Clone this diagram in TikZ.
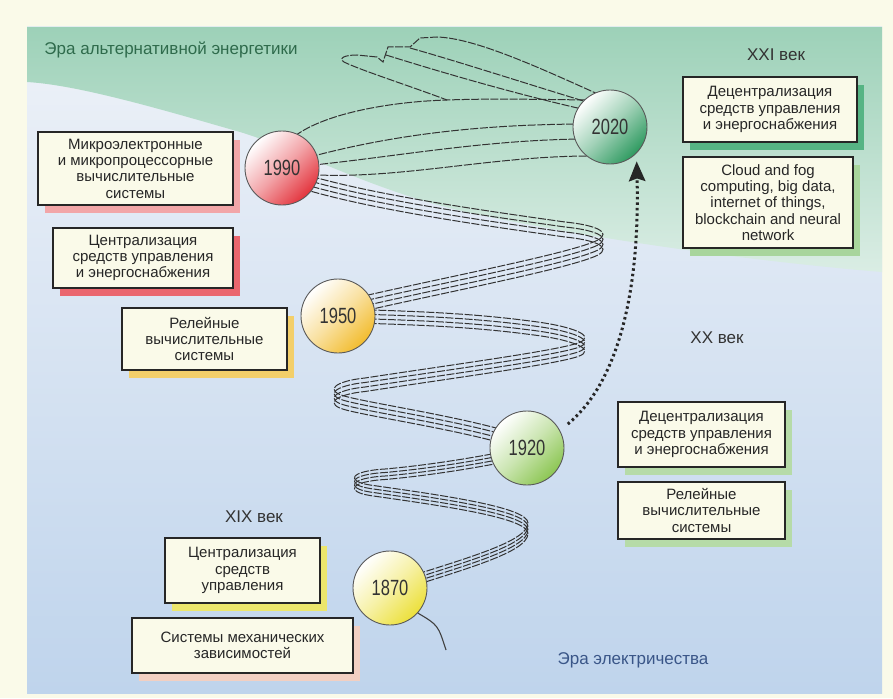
\documentclass[tikz,border=0pt]{standalone}
\usepackage{fontspec}
\setmainfont{Liberation Sans}
\newfontfamily\yearfont{Liberation Sans}[FakeStretch=0.75]
\usetikzlibrary{shadows,arrows.meta}

\definecolor{cream}{HTML}{FAFAE9}
\definecolor{skytop}{HTML}{EEF2F8}
\definecolor{skybot}{HTML}{BFD4EC}
\definecolor{greentop}{HTML}{9DD1B8}
\definecolor{greenbot}{HTML}{DAEDE4}
\definecolor{eragreen}{HTML}{2F6B4C}
\definecolor{erablue}{HTML}{3A5688}
\definecolor{redyear}{HTML}{E3343D}
\definecolor{greenyear}{HTML}{2E9A60}
\definecolor{orangeyear}{HTML}{F2BC2E}
\definecolor{limeyear}{HTML}{8CC653}
\definecolor{yellowyear}{HTML}{ECE03A}
\definecolor{shpink}{HTML}{F2A6A8}
\definecolor{shred}{HTML}{EA666E}
\definecolor{shorange}{HTML}{F3CF6A}
\definecolor{shgreen}{HTML}{56B484}
\definecolor{shlight}{HTML}{A8D59C}
\definecolor{shlime}{HTML}{B6DBA8}
\definecolor{shyellow}{HTML}{ECE66C}
\definecolor{shpeach}{HTML}{F2CFC2}

\tikzset{
  coil/.style={draw=black!80,line width=1pt,dash pattern=on 8pt off 1.6pt},
  year/.style={circle,draw=black!65,line width=0.9pt,minimum size=74pt,inner sep=0pt,
    font=\yearfont\fontsize{22}{22}\selectfont,text=black!80,
    top color=white,bottom color=#1,middle color=#1!45,shading angle=45},
  infobox/.style={draw=black!85,line width=1.4pt,fill=cream,align=center,inner sep=2pt,
    text=black!85,font=\fontsize{15}{16.3}\selectfont,
    drop shadow={shadow xshift=7pt,shadow yshift=-8pt,fill=#1,opacity=1}},
  era/.style={font=\fontsize{17}{17}\selectfont,text=black!80},
  dotarrow/.style={black!85,line width=3pt,dash pattern=on 2.5pt off 3pt,
    -{Stealth[length=20pt,width=17pt,inset=3pt,line width=0pt]},shorten <=10pt,shorten >=8pt}
}

\begin{document}
\begin{tikzpicture}[x=1pt,y=-1pt]
\useasboundingbox (0,0) rectangle (893,698);
\fill[cream] (0,0) rectangle (893,698);
\shade[top color=skytop,bottom color=skybot] (27,27) rectangle (882,693);
\shade[top color=greentop,bottom color=greenbot] (27,27) -- (882,27) -- (882,272)
  .. controls (760,262) and (600,240) .. (480,215)
  .. controls (380,195) and (300,150) .. (240,132)
  .. controls (170,112) and (80,85) .. (27,82) -- cycle;

% the coil
\foreach \o in {-5,-1.5,2,5.5}
  \draw[coil,shift={(0,\o)}] (390,588) .. controls (455,566) and (528,548) .. (528,528)
    .. controls (528,512) and (440,500) .. (370,490)
    .. controls (345,486) and (350,476) .. (385,474)
    .. controls (430,470) and (480,462) .. (527,452);
\foreach \o in {-7,-2.5,2,6.5}
  \draw[coil,shift={(0,\o)}] (527,444) .. controls (470,425) and (380,412) .. (348,404)
    .. controls (322,398) and (335,388) .. (365,385)
    .. controls (450,372) and (555,358) .. (578,350)
    .. controls (598,343) and (572,333) .. (530,328)
    .. controls (470,320) and (410,318) .. (338,316);
\foreach \o in {-8,-3,2,7}
  \draw[coil,shift={(0,\o)}] (338,310) .. controls (430,288) and (570,262) .. (598,248)
    .. controls (612,240) and (595,233) .. (565,230)
    .. controls (480,218) and (350,200) .. (282,175);
\draw[coil] (282,165) .. controls (380,135) and (480,124) .. (590,124);
\draw[coil] (282,168) .. controls (380,160) and (480,139) .. (590,139);
\draw[coil] (282,172) .. controls (380,185) and (480,156) .. (590,156);
\draw[coil] (282,150) .. controls (300,118) and (380,102) .. (447,100)
  .. controls (500,98) and (560,100) .. (600,100);
\draw[coil] (600,95) .. controls (540,68) and (475,38) .. (437,37) -- (420,38)
  -- (410,47) -- (388,47) -- (383,62) -- (377,57) -- (357,55)
  .. controls (345,55) and (338,58) .. (344,62)
  .. controls (360,70) and (410,86) .. (447,100);
\draw[coil] (410,48) .. controls (460,62) and (540,88) .. (600,106);
\draw[coil] (386,55) .. controls (450,75) and (530,98) .. (600,113);

% years
\node[year=yellowyear] (y1870) at (390,588) {1870};
\node[year=limeyear] (y1920) at (527,448) {1920};
\node[year=orangeyear] (y1950) at (338,316) {1950};
\node[year=redyear] (y1990) at (282,168) {1990};
\node[year=greenyear] (y2020) at (610,127) {2020};
\coordinate (tail) at (446,650);
\draw[black!75,line width=1.1pt] (y1870.-42) .. controls (438,625) .. (tail);
\draw[dotarrow] (y1920.28) .. controls (615,385) and (640,300) .. (y2020.-45);

% boxes
\node[infobox=shpink,minimum width=195pt,minimum height=73pt] (b1990a) at (135.5,168.5)
  {Микроэлектронные\\и микропроцессорные\\вычислительные\\системы};
\node[infobox=shred,minimum width=180pt,minimum height=60pt] (b1990b) at (143,258)
  {Централизация\\средств управления\\и энергоснабжения};
\node[infobox=shorange,minimum width=165pt,minimum height=62pt] (b1950) at (204.5,339)
  {Релейные\\вычислительные\\системы};
\node[infobox=shgreen,minimum width=174pt,minimum height=65pt] (b2020a) at (770,109.5)
  {Децентрализация\\средств управления\\и энергоснабжения};
\node[infobox=shlight,minimum width=170pt,minimum height=91pt] (b2020b) at (768,202.5)
  {Cloud and fog\\computing, big data,\\internet of things,\\blockchain and neural\\network};
\node[infobox=shlime,minimum width=167pt,minimum height=65pt] (b1920a) at (701.5,434.5)
  {Децентрализация\\средств управления\\и энергоснабжения};
\node[infobox=shlime,minimum width=167pt,minimum height=57pt] (b1920b) at (701.5,510.5)
  {Релейные\\вычислительные\\системы};
\node[infobox=shyellow,minimum width=155pt,minimum height=65pt] (b1870a) at (242.5,570.5)
  {Централизация\\средств\\управления};
\node[infobox=shpeach,minimum width=221pt,minimum height=55pt] (b1870b) at (242.5,645.5)
  {Системы механических\\зависимостей};

% labels
\node[era,text=eragreen] (altera) at (171,50) {Эра альтернативной энергетики};
\node[era] (xxi) at (776,55) {XXI век};
\node[era] (xx) at (717,338) {XX век};
\node[era] (xix) at (254,517) {XIX век};
\node[era,text=erablue] (elera) at (633,660) {Эра электричества};
\end{tikzpicture}
\end{document}
